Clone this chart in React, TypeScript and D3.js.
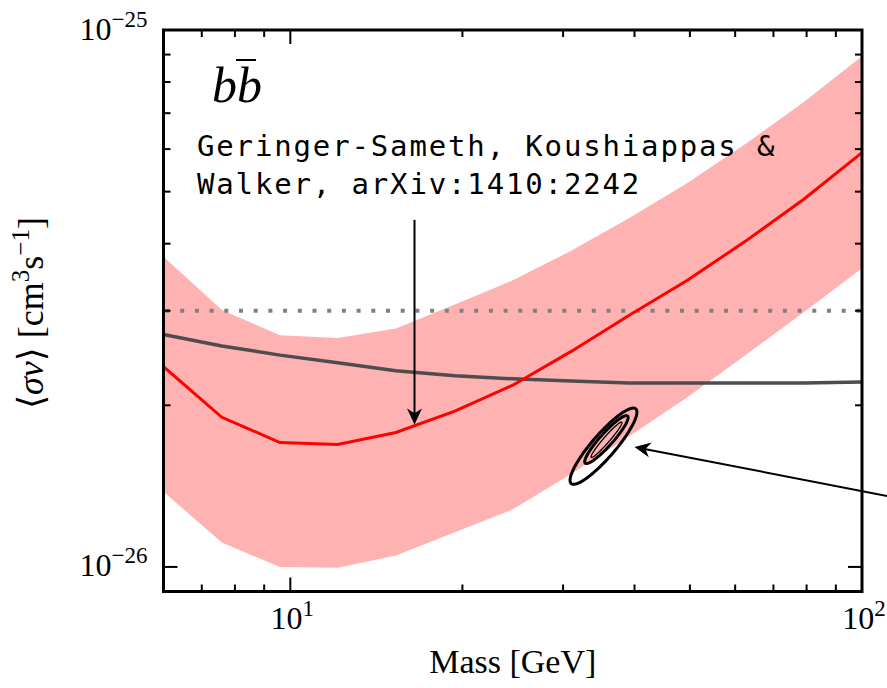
import * as d3 from "d3";

// masses in GeV (log-spaced grid from 6 to 100)
const masses = [6, 7.59, 9.59, 12.1, 15.3, 19.4, 24.5, 31.0, 39.1, 49.5, 62.5, 79.1, 100];
// median expected limit, units of 1e-26 cm^3 s^-1
const medianLimit = [2.36, 1.9, 1.705, 1.69, 1.78, 1.95, 2.18, 2.52, 2.94, 3.42, 4.04, 4.84, 5.91];
const bandUpper = [3.78, 3.01, 2.7, 2.67, 2.78, 3.08, 3.42, 3.88, 4.46, 5.19, 6.13, 7.34, 8.94];
const bandLower = [1.38, 1.11, 1.0, 0.996, 1.05, 1.16, 1.28, 1.49, 1.75, 2.07, 2.48, 2.98, 3.6];
const gsLimit = [2.71, 2.58, 2.48, 2.4, 2.32, 2.27, 2.24, 2.22, 2.2, 2.2, 2.2, 2.2, 2.21];
const thermalRelic = 3e-26;

// fit contours: major-axis endpoints [mass, sigmav] and minor/major ratio
const contours = [
  { a: [31.0, 1.43e-26], b: [40.2, 1.97e-26], ratio: 0.235, width: 3 },
  { a: [32.8, 1.56e-26], b: [38.9, 1.91e-26], ratio: 0.2, width: 3 },
  { a: [33.6, 1.6e-26], b: [38.0, 1.86e-26], ratio: 0.13, width: 1.3 },
];

const xMajor = [10, 100];
const xMinor = [7, 8, 9, 20, 30, 40, 50, 60, 70, 80, 90];
const yMajor = [1e-26, 1e-25];
const yMinor = [2e-26, 3e-26, 4e-26, 5e-26, 6e-26, 7e-26, 8e-26, 9e-26];

const W = 887;
const H = 688;
const margin = { left: 163.5, right: 25, top: 30, bottom: 96.5 };

const serif = "'Liberation Serif', 'DejaVu Serif', serif";
const mono = "'DejaVu Sans Mono', monospace";

export default function App() {
  const x = d3.scaleLog().domain([6, 100]).range([margin.left, W - margin.right]);
  const y = d3.scaleLog().domain([9e-27, 1e-25]).range([H - margin.bottom, margin.top]);
  const [x0, x1] = x.range();
  const [y0, y1] = y.range();

  const pts = masses.map((m, i) => ({
    m,
    med: medianLimit[i] * 1e-26,
    lo: bandLower[i] * 1e-26,
    hi: bandUpper[i] * 1e-26,
    gs: gsLimit[i] * 1e-26,
  }));

  const area = d3
    .area<(typeof pts)[number]>()
    .x((d) => x(d.m))
    .y0((d) => y(d.lo))
    .y1((d) => y(d.hi));
  const medLine = d3
    .line<(typeof pts)[number]>()
    .x((d) => x(d.m))
    .y((d) => y(d.med));
  const gsLine = d3
    .line<(typeof pts)[number]>()
    .x((d) => x(d.m))
    .y((d) => y(d.gs));

  const ellipsePath = (c: (typeof contours)[number]) => {
    const ax = x(c.a[0]), ay = y(c.a[1]);
    const bx = x(c.b[0]), by = y(c.b[1]);
    const cx = (ax + bx) / 2, cy = (ay + by) / 2;
    const semi = Math.hypot(bx - ax, by - ay) / 2;
    const minor = semi * c.ratio;
    const ang = Math.atan2(by - ay, bx - ax);
    const ts = d3.range(0, 2 * Math.PI, Math.PI / 60);
    const p = ts.map((t) => {
      const u = semi * Math.cos(t), v = minor * Math.sin(t);
      return [cx + u * Math.cos(ang) - v * Math.sin(ang), cy + u * Math.sin(ang) + v * Math.cos(ang)] as [number, number];
    });
    return d3.line().curve(d3.curveLinearClosed)(p) || "";
  };

  const arrowHead = (tx: number, ty: number, fx: number, fy: number, len = 16, half = 7.5) => {
    const ang = Math.atan2(ty - fy, tx - fx);
    const ux = Math.cos(ang), uy = Math.sin(ang);
    const px = -uy, py = ux;
    const bx = tx - ux * len, by = ty - uy * len;
    const nx = tx - ux * len * 0.7, ny = ty - uy * len * 0.7;
    return `M${tx},${ty}L${bx + px * half},${by + py * half}L${nx},${ny}L${bx - px * half},${by - py * half}Z`;
  };

  // annotation arrows in data coords
  const a1 = { from: [x(16.49), y(4.43e-26)], to: [x(16.49), y(1.842e-26)] };
  const a2 = { from: [x(110.6), y(1.356e-26)], to: [x(40.0), y(1.673e-26)] };

  const tickLabelY = (v: number, exp: string) => (
    <text key={"yl" + exp} x={x0 - 16} y={y(v) + 9.5} textAnchor="end" fontFamily={serif} fontSize={32}>
      10<tspan fontSize={23} dy={-13}>{exp}</tspan>
    </text>
  );
  const tickLabelX = (v: number, exp: string) => (
    <text key={"xl" + exp} x={x(v) + 2} y={629} textAnchor="middle" fontFamily={serif} fontSize={32}>
      10<tspan fontSize={23} dy={-13}>{exp}</tspan>
    </text>
  );

  return (
    <div style={{ position: "absolute", left: 0, top: 0 }}>
      <svg width={W} height={H} style={{ display: "block", background: "#fff" }}>
        <defs>
          <clipPath id="plot">
            <rect x={x0} y={y1} width={x1 - x0} height={y0 - y1} />
          </clipPath>
        </defs>
        <g clipPath="url(#plot)">
          <path d={area(pts) || ""} fill="#ffb2b2" />
          <line
            x1={x0}
            x2={x1}
            y1={y(thermalRelic)}
            y2={y(thermalRelic)}
            stroke="#808080"
            strokeWidth={4}
            strokeDasharray="4 10.7"
            strokeDashoffset={-2}
          />
          <path d={gsLine(pts) || ""} fill="none" stroke="#4d4d4d" strokeWidth={3.5} />
          <path d={medLine(pts) || ""} fill="none" stroke="#ff0000" strokeWidth={3} />
          {contours.map((c, i) => (
            <path key={i} d={ellipsePath(c)} fill="none" stroke="#000" strokeWidth={c.width} />
          ))}
        </g>

        {/* arrows */}
        <line x1={a1.from[0]} y1={a1.from[1]} x2={a1.to[0]} y2={a1.to[1] - 10} stroke="#000" strokeWidth={2} />
        <path d={arrowHead(a1.to[0], a1.to[1], a1.from[0], a1.from[1])} fill="#000" />
        <line x1={a2.from[0]} y1={a2.from[1]} x2={a2.to[0] + 10} y2={a2.to[1] + 2} stroke="#000" strokeWidth={2} />
        <path d={arrowHead(a2.to[0], a2.to[1], a2.from[0], a2.from[1])} fill="#000" />

        {/* ticks */}
        {xMajor.map((v) => (
          <g key={"xM" + v}>
            <line x1={x(v)} x2={x(v)} y1={y0} y2={y0 - 14} stroke="#000" strokeWidth={2} />
            <line x1={x(v)} x2={x(v)} y1={y1} y2={y1 + 14} stroke="#000" strokeWidth={2} />
          </g>
        ))}
        {xMinor.map((v) => (
          <g key={"xm" + v}>
            <line x1={x(v)} x2={x(v)} y1={y0} y2={y0 - 7} stroke="#000" strokeWidth={2} />
            <line x1={x(v)} x2={x(v)} y1={y1} y2={y1 + 7} stroke="#000" strokeWidth={2} />
          </g>
        ))}
        {yMajor.map((v) => (
          <g key={"yM" + v}>
            <line x1={x0} x2={x0 + 14} y1={y(v)} y2={y(v)} stroke="#000" strokeWidth={2} />
            <line x1={x1} x2={x1 - 14} y1={y(v)} y2={y(v)} stroke="#000" strokeWidth={2} />
          </g>
        ))}
        {yMinor.map((v) => (
          <g key={"ym" + v}>
            <line x1={x0} x2={x0 + 7} y1={y(v)} y2={y(v)} stroke="#000" strokeWidth={2} />
            <line x1={x1} x2={x1 - 7} y1={y(v)} y2={y(v)} stroke="#000" strokeWidth={2} />
          </g>
        ))}

        <rect x={x0} y={y1} width={x1 - x0} height={y0 - y1} fill="none" stroke="#000" strokeWidth={3} />

        {tickLabelY(1e-26, "\u221226")}
        {tickLabelY(1e-25, "\u221225")}
        {tickLabelX(10, "1")}
        {tickLabelX(100, "2")}

        {/* channel label */}
        <text x={212} y={101.7} fontFamily={serif} fontStyle="italic" fontSize={50}>
          bb
        </text>
        <line x1={236} x2={256} y1={60} y2={60} stroke="#000" strokeWidth={2} />

        {/* annotation */}
        <text fontFamily={mono} fontSize={29} letterSpacing={1.85}>
          <tspan x={197} y={156}>Geringer-Sameth, Koushiappas &amp;</tspan>
          <tspan x={197} y={193.5}>Walker, arXiv:1410:2242</tspan>
        </text>

        {/* axis labels */}
        <text x={(x0 + x1) / 2} y={673} textAnchor="middle" fontFamily={serif} fontSize={34}>
          Mass [GeV]
        </text>
        <text transform="translate(43,409) rotate(-90)" textAnchor="start" fontFamily={serif} fontSize={36}>
          {"\u27E8"}
          <tspan fontStyle="italic">{"\u03C3v"}</tspan>
          {"\u27E9 [cm"}
          <tspan fontSize={25} dy={-14}>3</tspan>
          <tspan dy={14}>s</tspan>
          <tspan fontSize={25} dy={-14}>{"\u22121"}</tspan>
          <tspan dy={14}>]</tspan>
        </text>
      </svg>
    </div>
  );
}
